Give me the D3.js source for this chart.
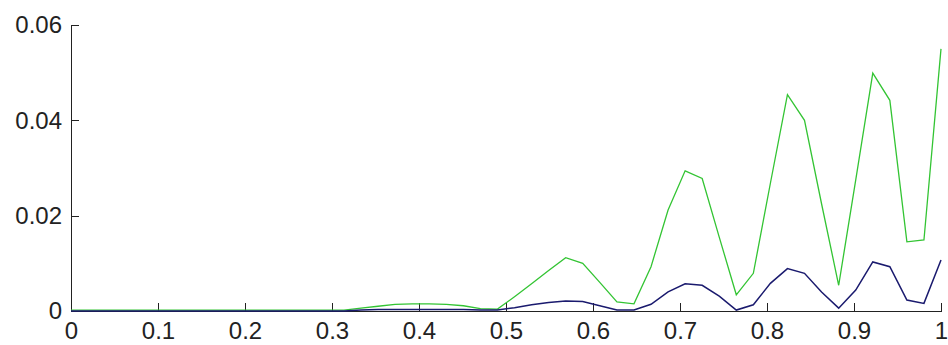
<!DOCTYPE html>
<html>
<head>
<meta charset="utf-8">
<script src="https://cdn.jsdelivr.net/npm/d3@7"></script>
<style>
    html, body { margin: 0; padding: 0; background: #fff; }
    #chart { width: 948px; height: 345px; }
    .axis text { font-family: "Liberation Sans", Arial, sans-serif; font-size: 24px; fill: #222; }
    .axis path, .axis line { stroke: #222; stroke-width: 1.3px; shape-rendering: crispEdges; }
</style>
</head>
<body>
<div id="chart"></div>
<script>
(function () {
    'use strict';

    // sample positions (52 evenly spaced points from 0 to 1)
    var xValues = [0, 0.0196, 0.0392, 0.0588, 0.0784, 0.0980, 0.1176, 0.1373, 0.1569, 0.1765,
        0.1961, 0.2157, 0.2353, 0.2549, 0.2745, 0.2941, 0.3137, 0.3333, 0.3529, 0.3725,
        0.3922, 0.4118, 0.4314, 0.4510, 0.4706, 0.4902, 0.5098, 0.5294, 0.5490, 0.5686,
        0.5882, 0.6078, 0.6275, 0.6471, 0.6667, 0.6863, 0.7059, 0.7255, 0.7451, 0.7647,
        0.7843, 0.8039, 0.8235, 0.8431, 0.8627, 0.8824, 0.9020, 0.9216, 0.9412, 0.9608,
        0.9804, 1.0];

    var greenValues = [0.0002, 0.0002, 0.0002, 0.0002, 0.0002, 0.0002, 0.0002, 0.0002, 0.0002, 0.0002,
        0.0002, 0.0002, 0.0002, 0.0002, 0.0002, 0.0002, 0.0002, 0.0006, 0.0010, 0.0014,
        0.0015, 0.0015, 0.0014, 0.0011, 0.0005, 0.0004, 0.0030, 0.0057, 0.0085, 0.0112,
        0.0100, 0.0060, 0.0019, 0.0015, 0.0093, 0.0212, 0.0294, 0.0278, 0.0155, 0.0034,
        0.0079, 0.0268, 0.0454, 0.0400, 0.0225, 0.0054, 0.0275, 0.0499, 0.0442, 0.0145,
        0.0149, 0.0550];

    var blueValues = [0, 0, 0, 0, 0, 0, 0, 0, 0, 0,
        0, 0, 0, 0, 0, 0, 0, 0.0002, 0.0003, 0.0003,
        0.0003, 0.0003, 0.0003, 0.0003, 0.0002, 0.0002, 0.0007, 0.0013, 0.0018, 0.0021,
        0.0020, 0.0011, 0.0002, 0.0002, 0.0014, 0.0040, 0.0057, 0.0054, 0.0031, 0.0002,
        0.0013, 0.0058, 0.0089, 0.0079, 0.0040, 0.0006, 0.0044, 0.0103, 0.0093, 0.0023,
        0.0016, 0.0107];

    var xTicks = [0, 0.1, 0.2, 0.3, 0.4, 0.5, 0.6, 0.7, 0.8, 0.9, 1];
    var xTickLabels = ["0", "0.1", "0.2", "0.3", "0.4", "0.5", "0.6", "0.7", "0.8", "0.9", "1"];
    var yTicks = [0, 0.02, 0.04, 0.06];
    var yTickLabels = ["0", "0.02", "0.04", "0.06"];

    var width = 948, height = 345;
    var left = 71, right = 941, top = 25, bottom = 311;

    var svg = d3.select("#chart").append("svg")
        .attr("width", width)
        .attr("height", height);

    var x = d3.scaleLinear().domain([0, 1]).range([left, right]);
    var y = d3.scaleLinear().domain([0, 0.06]).range([bottom, top]);

    var line = d3.line()
        .x(function (d) { return x(d[0]); })
        .y(function (d) { return y(d[1]); });

    var greenSeries = xValues.map(function (v, i) { return [v, greenValues[i]]; });
    var blueSeries = xValues.map(function (v, i) { return [v, blueValues[i]]; });

    svg.append("g")
        .attr("class", "axis")
        .attr("transform", "translate(0," + bottom + ")")
        .call(d3.axisBottom(x)
            .tickValues(xTicks)
            .tickFormat(function (d, i) { return xTickLabels[i]; })
            .tickSizeInner(-8)
            .tickSizeOuter(0)
            .tickPadding(11));

    svg.append("g")
        .attr("class", "axis")
        .attr("transform", "translate(" + left + ",0)")
        .call(d3.axisLeft(y)
            .tickValues(yTicks)
            .tickFormat(function (d, i) { return yTickLabels[i]; })
            .tickSizeInner(-8)
            .tickSizeOuter(0)
            .tickPadding(9));

    svg.append("path")
        .datum(greenSeries)
        .attr("fill", "none")
        .attr("stroke", "#33c433")
        .attr("stroke-width", 1.3)
        .attr("d", line);

    svg.append("path")
        .datum(blueSeries)
        .attr("fill", "none")
        .attr("stroke", "#1a1a6e")
        .attr("stroke-width", 1.5)
        .attr("d", line);
}());
</script>
</body>
</html>
